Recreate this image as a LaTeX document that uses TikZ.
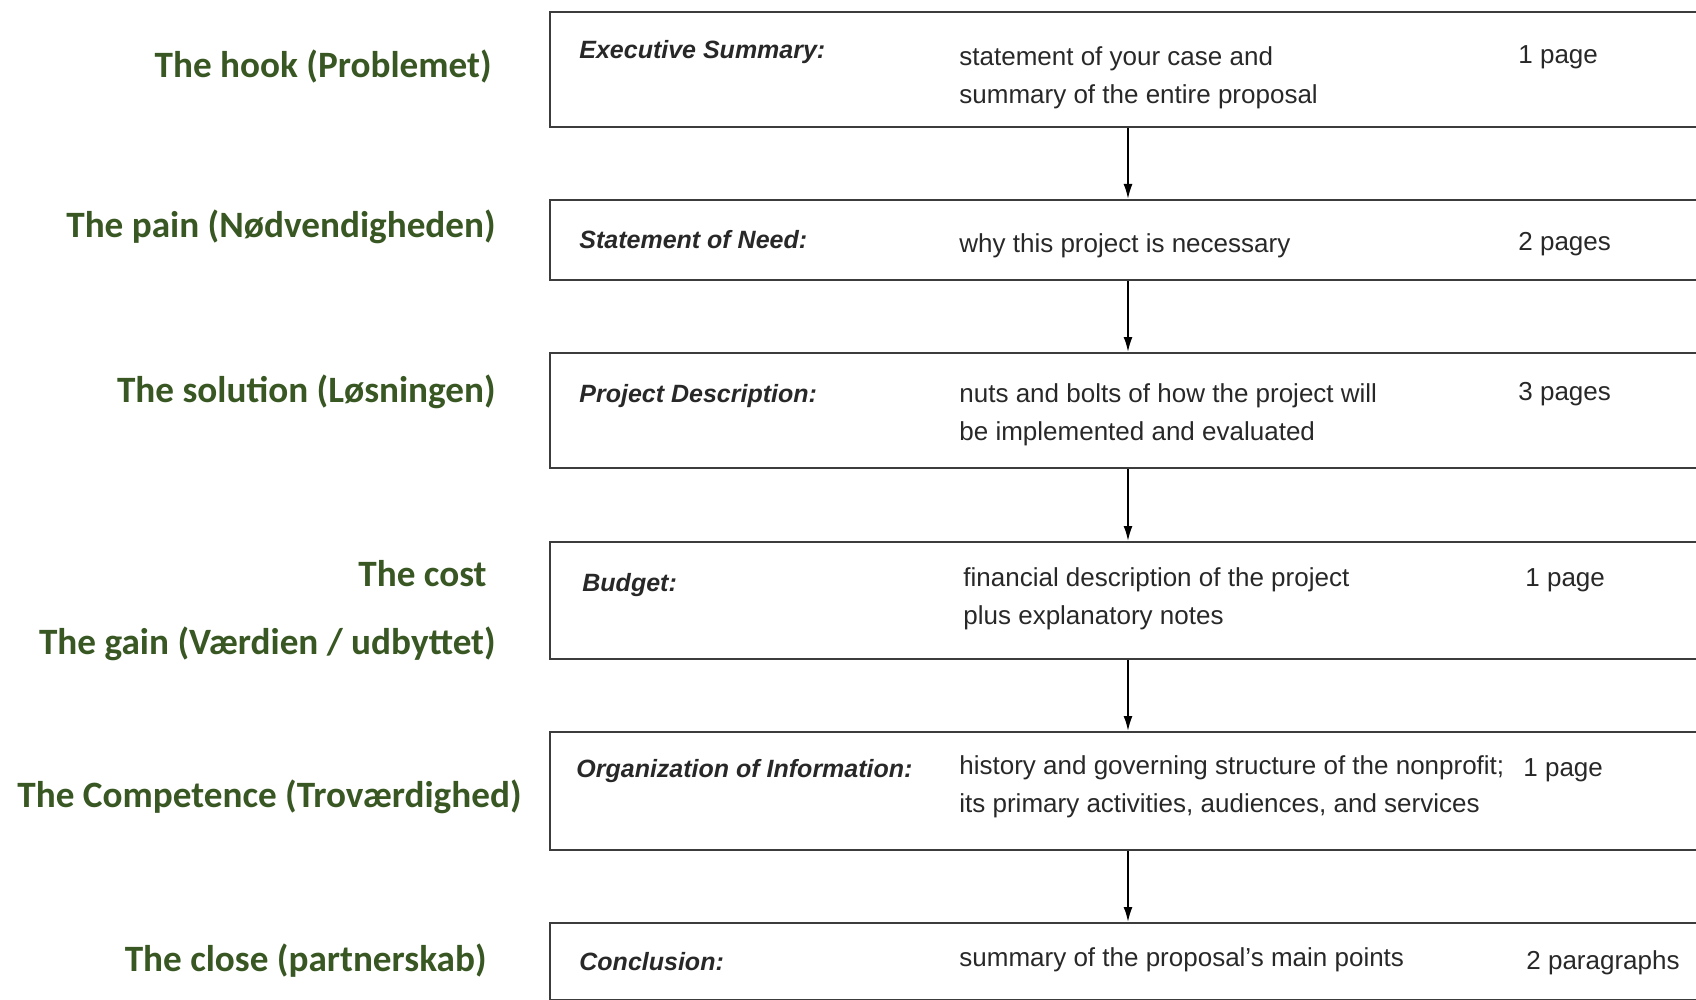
\documentclass[tikz,border=0pt]{standalone}
\usepackage{fontspec}
\setmainfont{Liberation Sans}
\newfontfamily\labelfont{Carlito}
\usepackage{xcolor}
\usetikzlibrary{arrows.meta, positioning}
\definecolor{hookgreen}{RGB}{56, 87, 35}
\definecolor{scanink}{RGB}{40, 40, 40}
\definecolor{scanline}{RGB}{60, 60, 60}

\begin{document}
\begin{tikzpicture}[x=0.5pt, y=-0.5pt,
    sectionbox/.style={draw=scanline, line width=1pt, anchor=north west, minimum width=700pt, inner sep=0pt},
    title/.style={anchor=base west, inner sep=0pt, font=\fontsize{12.5}{19}\selectfont\bfseries\itshape, text=scanink},
    desc/.style={anchor=base west, inner sep=0pt, align=left, font=\fontsize{13}{19}\selectfont, text=scanink},
    pages/.style={anchor=base west, inner sep=0pt, font=\fontsize{13}{19}\selectfont, text=scanink},
    tag/.style={anchor=base east, inner sep=0pt, font=\fontsize{18.6}{22}\selectfont\labelfont\bfseries, text=hookgreen},
    flow/.style={draw=black, line width=0.9pt, -{Latex[length=7.5pt, width=4.5pt]}}]
    \useasboundingbox (0,0) rectangle (1696,1000);
    \clip (0,0) rectangle (1696,1000);

    % Left side: green labels
    \node[tag] (hook) at (492,78) {The hook (Problemet)};
    \node[tag] (pain) at (496,238) {The pain (Nødvendigheden)};
    \node[tag] (solution) at (496,402) {The solution (Løsningen)};
    \node[tag] (cost) at (487,586) {The cost};
    \node[tag] (gain) at (496,654) {The gain (Værdien / udbyttet)};
    \node[tag] (competence) at (522,807) {The Competence (Troværdighed)};
    \node[tag] (close) at (487,971) {The close (partnerskab)};

    % Right side: proposal sections
    \node[sectionbox, minimum height=57.5pt] (exec) at (549,11) {};
    \node[sectionbox, minimum height=40pt] (need) at (549,199) {};
    \node[sectionbox, minimum height=57.5pt] (project) at (549,352) {};
    \node[sectionbox, minimum height=58.5pt] (budget) at (549,541) {};
    \node[sectionbox, minimum height=59pt] (org) at (549,731) {};
    \node[sectionbox, minimum height=38.5pt] (concl) at (549,922) {};

    % Section texts (two-line texts sit on the baseline of their last line)
    \node[title] (exec-t) at (579,59) {Executive Summary:};
    \node[desc] (exec-d) at (959,104) {statement of your case and\\summary of the entire proposal};
    \node[pages] (exec-p) at (1518,64) {1 page};

    \node[title] (need-t) at (579,249) {Statement of Need:};
    \node[desc] (need-d) at (959,252) {why this project is necessary};
    \node[pages] (need-p) at (1518,250) {2 pages};

    \node[title] (project-t) at (579,402) {Project Description:};
    \node[desc] (project-d) at (959,440) {nuts and bolts of how the project will\\be implemented and evaluated};
    \node[pages] (project-p) at (1518,400) {3 pages};

    \node[title] (budget-t) at (582,591) {Budget:};
    \node[desc] (budget-d) at (963,624) {financial description of the project\\plus explanatory notes};
    \node[pages] (budget-p) at (1525,586) {1 page};

    \node[title] (org-t) at (576,777) {Organization of Information:};
    \node[desc] (org-d) at (959,812) {history and governing structure of the nonprofit;\\its primary activities, audiences, and services};
    \node[pages] (org-p) at (1523,776) {1 page};

    \node[title] (concl-t) at (579,970) {Conclusion:};
    \node[desc] (concl-d) at (959,966) {summary of the proposal's main points};
    \node[pages] (concl-p) at (1526,969) {2 paragraphs};

    % Flow arrows
    \coordinate (ax) at (1128,0);
    \draw[flow] (exec.south -| ax) -- (need.north -| ax);
    \draw[flow] (need.south -| ax) -- (project.north -| ax);
    \draw[flow] (project.south -| ax) -- (budget.north -| ax);
    \draw[flow] (budget.south -| ax) -- (org.north -| ax);
    \draw[flow] (org.south -| ax) -- (concl.north -| ax);
\end{tikzpicture}
\end{document}
